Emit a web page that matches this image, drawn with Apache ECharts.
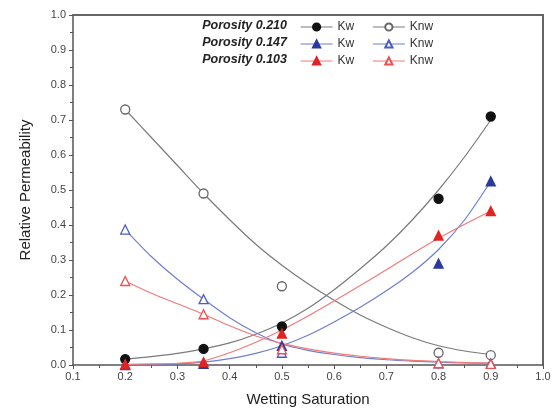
<!DOCTYPE html>
<html>
<head>
<meta charset="utf-8">
<script src="https://cdn.jsdelivr.net/npm/echarts@6/dist/echarts.min.js"></script>
<style>
  html, body { margin: 0; padding: 0; background: #fff; }
  #chart { width: 558px; height: 412px; }
</style>
</head>
<body>
<div id="chart"></div>
<script>
// measured saturations
const satX = [0.2, 0.35, 0.5, 0.8, 0.9]

// porosity 0.210
const kw210 = [0.017, 0.046, 0.11, 0.475, 0.71]
const knw210 = [0.73, 0.49, 0.225, 0.035, 0.028]
// porosity 0.147
const kw147 = [0.0, 0.003, 0.055, 0.29, 0.525]
const knw147 = [0.387, 0.188, 0.035, 0.005, 0.005]
// porosity 0.103
const kw103 = [0.002, 0.008, 0.09, 0.37, 0.44]
const knw103 = [0.24, 0.145, 0.045, 0.005, 0.003]

// fitted curves
const fitX = [0.2, 0.25, 0.3, 0.35, 0.4, 0.45, 0.5, 0.55, 0.6, 0.65, 0.7, 0.75, 0.8, 0.85, 0.9]
const fitKw210 = [0.017, 0.024, 0.033, 0.046, 0.063, 0.088, 0.12, 0.162, 0.215, 0.275, 0.34, 0.415, 0.5, 0.595, 0.7]
const fitKnw210 = [0.73, 0.65, 0.57, 0.49, 0.415, 0.345, 0.285, 0.232, 0.185, 0.143, 0.108, 0.078, 0.055, 0.04, 0.03]
const fitKw147 = [0.0, 0.001, 0.003, 0.008, 0.018, 0.033, 0.055, 0.085, 0.123, 0.165, 0.212, 0.265, 0.33, 0.415, 0.525]
const fitKnw147 = [0.387, 0.31, 0.245, 0.188, 0.135, 0.092, 0.06, 0.042, 0.03, 0.021, 0.015, 0.011, 0.008, 0.006, 0.005]
const fitKw103 = [0.002, 0.003, 0.005, 0.012, 0.035, 0.065, 0.1, 0.14, 0.183, 0.227, 0.272, 0.318, 0.362, 0.402, 0.44]
const fitKnw103 = [0.24, 0.205, 0.175, 0.145, 0.112, 0.083, 0.062, 0.046, 0.034, 0.025, 0.018, 0.013, 0.01, 0.007, 0.006]

const porosityLabels = ['Porosity 0.210', 'Porosity 0.147', 'Porosity 0.103']

const pair = (xs, ys) => xs.map((x, i) => [x, ys[i]])

const chart = echarts.init(document.getElementById('chart'))

// marker series (line type so the legend shows a line through the marker)
const markerSeries = (name, ys, symbol, color, fill) => ({
  name,
  type: 'line',
  data: pair(satX, ys),
  symbol,
  symbolSize: 9,
  showSymbol: true,
  itemStyle: { color: fill, borderColor: color, borderWidth: 1.3 },
  lineStyle: { opacity: 0 },
  emphasis: { disabled: true },
  z: 5
})

const fitSeries = (ys, color) => ({
  type: 'line',
  data: pair(fitX, ys),
  smooth: 0.3,
  symbol: 'none',
  lineStyle: { color, width: 1.2 },
  emphasis: { disabled: true },
  silent: true,
  z: 3
})

const gray = '#7a7a7a'
const blueLine = '#6f7fd2'
const redLine = '#f07a7a'

const legendItem = (name, lineColor) => ({
  name,
  lineStyle: { opacity: 1, width: 1.2, color: lineColor }
})

const rowTops = [21, 38, 55]
const legends = [
  ['Kw 0.210', 'Knw 0.210', gray],
  ['Kw 0.147', 'Knw 0.147', blueLine],
  ['Kw 0.103', 'Knw 0.103', redLine]
].map((r, i) => ({
  top: rowTops[i],
  left: 300,
  orient: 'horizontal',
  itemWidth: 32,
  itemHeight: 9,
  itemGap: 18,
  padding: 0,
  selectedMode: false,
  formatter: (n) => n.split(' ')[0],
  textStyle: { fontSize: 12, color: '#333', fontFamily: 'Liberation Sans, Arial' },
  data: [legendItem(r[0], r[2]), legendItem(r[1], r[2])]
}))

const option = {
  animation: false,
  grid: { left: 73, right: 15, top: 15, bottom: 46 },
  legend: legends,
  graphic: porosityLabels.map((t, i) => ({
    type: 'text',
    right: 558 - 287,
    top: rowTops[i] - 2,
    style: {
      text: t,
      font: 'italic bold 12.5px "Liberation Sans", Arial',
      fill: '#222'
    }
  })),
  xAxis: [
    {
      type: 'value',
      min: 0.1,
      max: 1.0,
      interval: 0.1,
      name: 'Wetting Saturation',
      nameLocation: 'middle',
      nameGap: 27,
      nameTextStyle: { fontSize: 15, color: '#222', fontFamily: 'Liberation Sans, Arial' },
      axisLine: { lineStyle: { color: '#555', width: 1.5 } },
      axisTick: { show: true, length: 4, lineStyle: { color: '#555' } },
      minorTick: { show: true, splitNumber: 2, length: 3, lineStyle: { color: '#555' } },
      axisLabel: {
        fontSize: 11, color: '#444', margin: 6,
        fontFamily: 'Liberation Sans, Arial',
        formatter: (v) => v.toFixed(1)
      },
      splitLine: { show: false }
    },
    {
      type: 'value',
      position: 'top',
      min: 0.1,
      max: 1.0,
      axisLine: { show: true, onZero: false, lineStyle: { color: '#666', width: 2 } },
      axisTick: { show: false },
      axisLabel: { show: false },
      splitLine: { show: false }
    }
  ],
  yAxis: [
    {
      type: 'value',
      min: 0,
      max: 1.0,
      interval: 0.1,
      name: 'Relative Permeability',
      nameLocation: 'middle',
      nameGap: 40,
      nameTextStyle: { fontSize: 15, color: '#222', fontFamily: 'Liberation Sans, Arial' },
      axisLine: { show: true, lineStyle: { color: '#555', width: 1.5 } },
      axisTick: { show: true, length: 4, lineStyle: { color: '#555' } },
      minorTick: { show: true, splitNumber: 2, length: 3, lineStyle: { color: '#555' } },
      axisLabel: {
        fontSize: 11, color: '#444', margin: 7,
        fontFamily: 'Liberation Sans, Arial',
        formatter: (v) => v.toFixed(1)
      },
      splitLine: { show: false }
    },
    {
      type: 'value',
      position: 'right',
      min: 0,
      max: 1.0,
      axisLine: { show: true, onZero: false, lineStyle: { color: '#666', width: 2 } },
      axisTick: { show: false },
      axisLabel: { show: false },
      splitLine: { show: false }
    }
  ],
  series: [
    fitSeries(fitKw210, gray),
    fitSeries(fitKnw210, gray),
    fitSeries(fitKw147, blueLine),
    fitSeries(fitKnw147, blueLine),
    fitSeries(fitKw103, redLine),
    fitSeries(fitKnw103, redLine),
    markerSeries('Kw 0.210', kw210, 'circle', '#111', '#111'),
    markerSeries('Knw 0.210', knw210, 'circle', '#666', '#fff'),
    markerSeries('Kw 0.147', kw147, 'triangle', '#2b3a9a', '#2b3a9a'),
    markerSeries('Knw 0.147', knw147, 'triangle', '#4a5cc4', '#fff'),
    markerSeries('Kw 0.103', kw103, 'triangle', '#e02424', '#e02424'),
    markerSeries('Knw 0.103', knw103, 'triangle', '#ec5050', '#fff')
  ]
}

chart.setOption(option)
</script>
</body>
</html>
